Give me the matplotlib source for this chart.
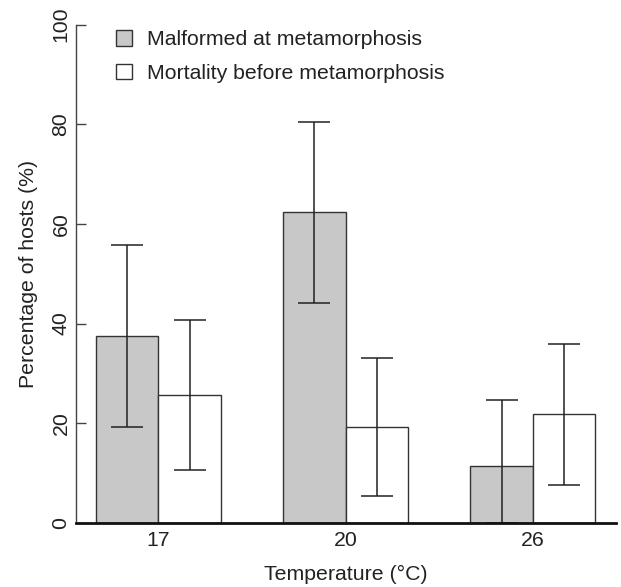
import numpy as np
import matplotlib
matplotlib.use('Agg')
import matplotlib.pyplot as plt
from matplotlib.patches import Patch

plt.rcParams['font.family'] = ['Liberation Sans', 'DejaVu Sans']

temps = ['17', '20', '26']
malformed = [37.4, 62.4, 11.4]
malformed_lo = [19.3, 44.2, 0.0]
malformed_hi = [55.7, 80.5, 24.7]
mortality = [25.7, 19.3, 21.9]
mortality_lo = [10.6, 5.4, 7.6]
mortality_hi = [40.7, 33.1, 35.9]

txt = '#222222'
fs = 15.3
fig = plt.figure(figsize=(6.21, 5.87), dpi=100)
ax = fig.add_axes([76 / 621, 1 - 522.7 / 587, (615.7 - 76) / 621, (522.7 - 24.7) / 587])

x = np.arange(len(temps)) * 3
w = 1.0
ax.bar(x, malformed, width=w, align='edge', color='#c8c8c8', edgecolor='#333333', linewidth=1.0)
ax.bar(x + w, mortality, width=w, align='edge', color='white', edgecolor='#333333', linewidth=1.0)

m = np.array(malformed)
ax.errorbar(x + w / 2, m, yerr=[m - np.array(malformed_lo), np.array(malformed_hi) - m],
            fmt='none', ecolor='#222222', elinewidth=1.1, capsize=11.5, capthick=1.1)
d = np.array(mortality)
ax.errorbar(x + 1.5 * w, d, yerr=[d - np.array(mortality_lo), np.array(mortality_hi) - d],
            fmt='none', ecolor='#222222', elinewidth=1.1, capsize=11.5, capthick=1.1)

ax.set_xlim(-0.32, 8.33)
ax.set_ylim(0, 100)
for s in ['top', 'right']:
    ax.spines[s].set_visible(False)
ax.spines['left'].set_bounds(0, 100)
ax.spines['left'].set_color('#444444')
ax.spines['left'].set_linewidth(1.0)
ax.spines['bottom'].set_color('#111111')
ax.spines['bottom'].set_linewidth(2.0)

ax.set_yticks([0, 20, 40, 60, 80, 100])
ax.set_yticklabels(['0', '20', '40', '60', '80', '100'], rotation=90, va='center')
ax.tick_params(axis='y', direction='in', length=7.5, width=1.0, colors='#444444',
               labelcolor=txt, labelsize=fs, pad=4)
ax.set_xticks(x + w)
ax.set_xticklabels(temps)
ax.tick_params(axis='x', length=0, labelcolor=txt, labelsize=fs, pad=6)

ax.set_ylabel('Percentage of hosts (%)', fontsize=fs, color=txt, labelpad=10)
ax.set_xlabel('Temperature (°C)', fontsize=fs, color=txt, labelpad=11)

handles = [Patch(facecolor='#c8c8c8', edgecolor='#333333', linewidth=1.0),
           Patch(facecolor='white', edgecolor='#333333', linewidth=1.0)]
ax.legend(handles, ['Malformed at metamorphosis', 'Mortality before metamorphosis'],
          loc='upper left', bbox_to_anchor=((116 - 76) / 539.7, 1 - (30 - 24.7) / 498),
          frameon=False, fontsize=fs, handlelength=0.75, handleheight=0.75,
          handletextpad=0.7, borderpad=0, borderaxespad=0, labelspacing=0.68,
          labelcolor=txt)

fig.savefig('out.png', dpi=100)
